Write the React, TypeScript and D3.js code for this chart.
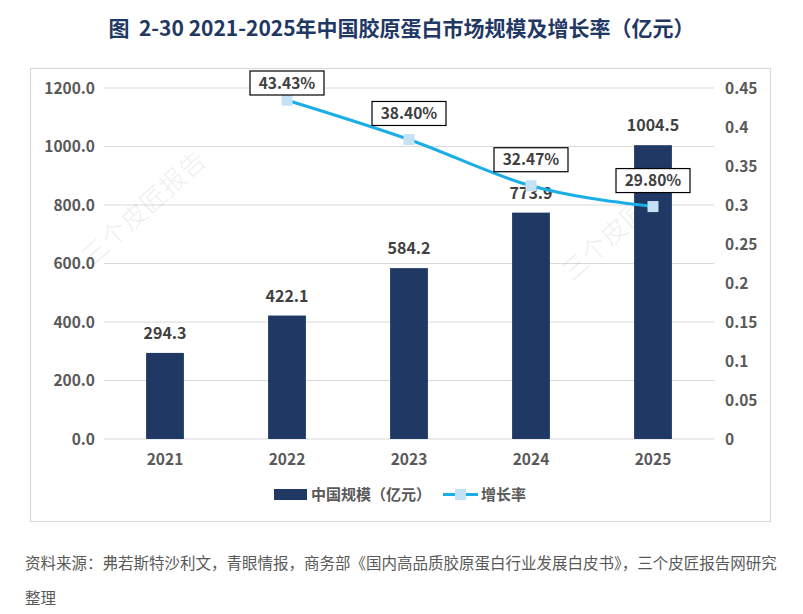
import * as d3 from 'd3';

// 数据
const years = ['2021', '2022', '2023', '2024', '2025'];
const scale = [294.3, 422.1, 584.2, 773.9, 1004.5];
const growth: (number | null)[] = [null, 0.4343, 0.384, 0.3247, 0.298];
const leftTicks = [0, 200, 400, 600, 800, 1000, 1200];
const rightTicks = [0, 0.05, 0.1, 0.15, 0.2, 0.25, 0.3, 0.35, 0.4, 0.45];

const W = 803;
const H = 614;
const FONT = '"Noto Sans CJK SC", "Noto Sans", sans-serif';
const NAVY = '#1F3864';
const LINE = '#1BAEE6';
const MARK = '#C4E1F6';
const GREY = '#595959';

export default function App() {
    const plot = { left: 104, right: 714, top: 88, bottom: 439 };

    const x = d3.scaleBand<string>().domain(years).range([plot.left, plot.right]).paddingInner(0.69).paddingOuter(0.345);
    const y = d3.scaleLinear().domain([0, 1200]).range([plot.bottom, plot.top]);
    const y2 = d3.scaleLinear().domain([0, 0.45]).range([plot.bottom, plot.top]);
    const cx = (d: string) => (x(d) ?? 0) + x.bandwidth() / 2;

    const pts = years
        .map((yr, i) => ({ yr, v: growth[i] }))
        .filter(p => p.v !== null) as { yr: string; v: number }[];

    const line = d3.line<{ yr: string; v: number }>()
        .x(d => cx(d.yr))
        .y(d => y2(d.v))
        .curve(d3.curveMonotoneX);

    return (
        <svg width={W} height={H} style={{ position: 'absolute', left: 0, top: 0, background: '#fff' }} fontFamily={FONT}>
            <rect x={0} y={0} width={W} height={H} fill="#fff" />
            {/* 标题 */}
            <text x={W / 2} y={36} textAnchor="middle" fontSize={21} fontWeight="bold" fill={NAVY}>
                {'图\u00A0\u00A02-30 2021-2025年中国胶原蛋白市场规模及增长率（亿元）'}
            </text>

            {/* 图框 */}
            <rect x={30.5} y={68.5} width={740} height={453} fill="#fff" stroke="#D9D9D9" strokeWidth={1.2} />

            {/* 网格线 */}
            {leftTicks.map(t => (
                <line key={t} x1={plot.left} x2={plot.right} y1={y(t)} y2={y(t)} stroke="#D9D9D9" strokeWidth={1} />
            ))}

            {/* 左轴 */}
            {leftTicks.map(t => (
                <text key={t} x={95} y={y(t) + 5.5} textAnchor="end" fontSize={15.5} fontWeight="bold" fill={GREY}>
                    {t.toFixed(1)}
                </text>
            ))}

            {/* 右轴 */}
            {rightTicks.map(t => (
                <text key={t} x={725} y={y2(t) + 5.5} textAnchor="start" fontSize={15.5} fontWeight="bold" fill={GREY}>
                    {String(t)}
                </text>
            ))}

            {/* 水印 */}
            {[[150, 215], [630, 230]].map(([wx, wy], i) => (
                <text key={i} x={wx} y={wy} textAnchor="middle" fontSize={26} fill="#000" fillOpacity={0.06}
                    transform={`rotate(-42 ${wx} ${wy})`}>
                    三个皮匠报告
                </text>
            ))}

            {/* 柱 */}
            {years.map((yr, i) => (
                <g key={yr}>
                    <rect x={x(yr)} y={y(scale[i])} width={x.bandwidth()} height={y(0) - y(scale[i])} fill={NAVY} />
                    <text x={cx(yr)} y={y(scale[i]) - 14} textAnchor="middle" fontSize={16} fontWeight="bold" fill="#404040">
                        {scale[i].toFixed(1)}
                    </text>
                    <text x={cx(yr)} y={465} textAnchor="middle" fontSize={15.5} fontWeight="bold" fill={GREY}>
                        {yr}
                    </text>
                </g>
            ))}

            {/* 增长率折线 */}
            <path d={line(pts) ?? ''} fill="none" stroke={LINE} strokeWidth={3} strokeLinecap="round" />
            {pts.map(p => (
                <rect key={p.yr} x={cx(p.yr) - 5.5} y={y2(p.v) - 5.5} width={11} height={11} fill={MARK} />
            ))}
            {pts.map(p => {
                const by = Math.max(y2(p.v) - 26, 83);
                return (
                    <g key={p.yr}>
                        <rect x={cx(p.yr) - 37} y={by - 12} width={74} height={24} fill="#fff" stroke="#000" strokeWidth={1.2} />
                        <text x={cx(p.yr)} y={by + 5.5} textAnchor="middle" fontSize={15.5} fontWeight="bold" fill="#404040">
                            {(p.v * 100).toFixed(2)}%
                        </text>
                    </g>
                );
            })}

            {/* 图例 */}
            <rect x={274} y={489} width={33} height={11} fill={NAVY} />
            <text x={311} y={500} fontSize={15} fontWeight="bold" fill={GREY}>中国规模（亿元）</text>
            <line x1={443} x2={478} y1={494.5} y2={494.5} stroke={LINE} strokeWidth={3} />
            <rect x={455} y={489} width={11} height={11} fill={MARK} />
            <text x={481} y={500} fontSize={15} fontWeight="bold" fill={GREY}>增长率</text>

            {/* 资料来源 */}
            <text x={25} y={569} fontSize={15.5} fill={GREY}>
                资料来源：弗若斯特沙利文，青眼情报，商务部《国内高品质胶原蛋白行业发展白皮书》，三个皮匠报告网研究
            </text>
            <text x={25} y={604} fontSize={15.5} fill={GREY}>整理</text>
        </svg>
    );
}
